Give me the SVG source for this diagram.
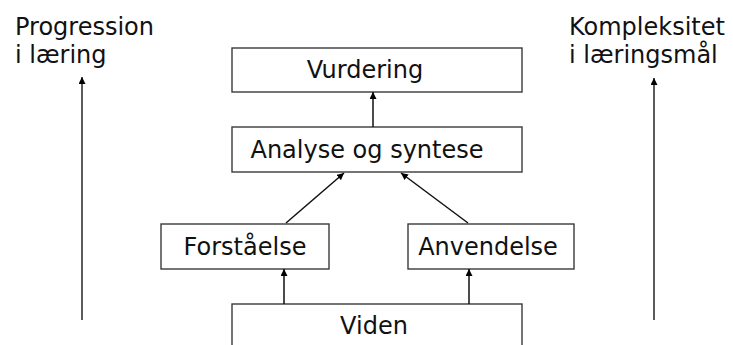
<svg xmlns="http://www.w3.org/2000/svg" width="733" height="345" viewBox="0 0 733 345">
<defs>
<style>
.box{fill:#fff;stroke:#3a3a3a;stroke-width:1.4}
.t{font-family:"DejaVu Sans","Liberation Sans",sans-serif;font-size:24px;fill:#111}
.c{stroke:#111;stroke-width:1.5;fill:none;marker-end:url(#ah)}
.s{stroke:#333;stroke-width:1.6;fill:none;marker-end:url(#ah)}
</style>
<marker id="ah" viewBox="0 0 10 10" refX="10" refY="5" markerWidth="7" markerHeight="7" markerUnits="userSpaceOnUse" orient="auto">
<path d="M0,0 L10,5 L0,10 z" fill="#000"/>
</marker>
</defs>
<rect width="733" height="345" fill="#fff"/>
<g id="label-left">
<text class="t" x="15" y="35">Progression</text>
<text class="t" x="15" y="63">i læring</text>
</g>
<g id="label-right">
<text class="t" x="569" y="35">Kompleksitet</text>
<text class="t" x="569" y="63">i læringsmål</text>
</g>
<g id="vurdering">
<rect class="box" x="232" y="48" width="290" height="44"/>
<text class="t" x="365" y="78" text-anchor="middle">Vurdering</text>
</g>
<g id="analyse">
<rect class="box" x="232" y="127" width="290" height="45"/>
<text class="t" x="367" y="158" text-anchor="middle">Analyse og syntese</text>
</g>
<g id="forstaaelse">
<rect class="box" x="161" y="224" width="168" height="45"/>
<text class="t" x="245" y="255" text-anchor="middle">Forståelse</text>
</g>
<g id="anvendelse">
<rect class="box" x="408" y="224" width="166" height="45"/>
<text class="t" x="488" y="255" text-anchor="middle">Anvendelse</text>
</g>
<g id="viden">
<rect class="box" x="232" y="304" width="290" height="60"/>
<text class="t" x="374" y="334" text-anchor="middle">Viden</text>
</g>
<g id="connectors">
<line class="c" x1="373" y1="127" x2="373" y2="92"/>
<line class="c" x1="286" y1="223" x2="344" y2="173"/>
<line class="c" x1="468" y1="223" x2="401" y2="173"/>
<line class="c" x1="284" y1="304" x2="284" y2="269"/>
<line class="c" x1="469" y1="304" x2="469" y2="269"/>
<line class="s" x1="82" y1="320" x2="82" y2="77"/>
<line class="s" x1="654" y1="320" x2="654" y2="78"/>
</g>
</svg>
